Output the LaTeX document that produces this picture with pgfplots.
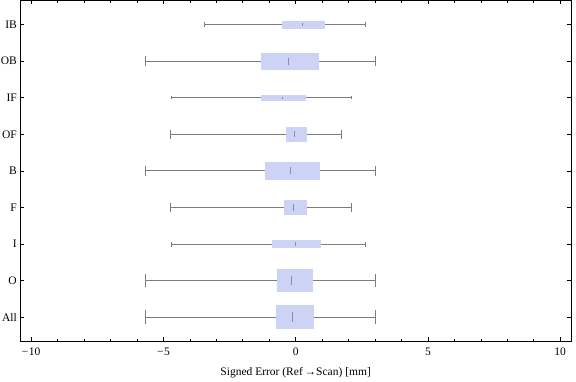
\documentclass[border=0pt]{standalone}
\usepackage{fontspec}
\setmainfont{Liberation Serif}
\usepackage{pgfplots}
\pgfplotsset{compat=1.18}
\usepgfplotslibrary{statistics}
\definecolor{boxcol}{RGB}{204,211,245}
\definecolor{whiskcol}{RGB}{125,125,125}
\definecolor{medcol}{RGB}{140,140,165}
\begin{document}
\begin{tikzpicture}
\begin{axis}[
  scale only axis,
  width=550.7pt, height=341pt,
  xmin=-10.41, xmax=10.41,
  ymin=0.34, ymax=9.66,
  xtick={-10,-5,0,5,10},
  xticklabels={{−\kern0.5pt10},{−\kern0.5pt5},0,5,10},
  minor x tick num=4,
  ytick={1,2,3,4,5,6,7,8,9},
  yticklabels={All,O,I,F,B,OF,IF,OB,IB},
  tick align=inside,
  axis line style={line width=0.8pt},
  every tick/.style={black, line width=0.6pt},
  major tick length=4pt, minor tick length=2.4pt,
  tick label style={font=\fontsize{11.5pt}{13pt}\selectfont},
  xticklabel style={yshift=-3pt},
  xlabel={Signed Error (Ref\,→Scan) [mm]},
  xlabel style={font=\fontsize{11.5pt}{13pt}\selectfont, at={(axis description cs:0.5,0)}, anchor=base, yshift=-34pt},
  boxplot/draw direction=x,
  boxplot/whisker extend=\pgfkeysvalueof{/pgfplots/boxplot/box extend}*0.56,
  boxplot/every box/.style={draw=none, fill=boxcol},
  boxplot/every whisker/.style={draw=whiskcol, line width=1pt},
  boxplot/every median/.style={draw=medcol, line width=0.9pt},
  boxplot/draw/median/.code={\draw[/pgfplots/boxplot/every median/.try] (boxplot box cs:\pgfplotsboxplotvalue{median},0.3) -- (boxplot box cs:\pgfplotsboxplotvalue{median},0.7);},
]
% All
\addplot[boxplot prepared={lower whisker=-5.69, lower quartile=-0.75, median=-0.13, upper quartile=0.69, upper whisker=3.02, draw position=1, box extend=0.66}] coordinates {};
% O
\addplot[boxplot prepared={lower whisker=-5.69, lower quartile=-0.71, median=-0.17, upper quartile=0.65, upper whisker=3.02, draw position=2, box extend=0.63}] coordinates {};
% I
\addplot[boxplot prepared={lower whisker=-4.71, lower quartile=-0.90, median=-0.02, upper quartile=0.95, upper whisker=2.64, draw position=3, box extend=0.24}] coordinates {};
% F
\addplot[boxplot prepared={lower whisker=-4.74, lower quartile=-0.45, median=-0.09, upper quartile=0.42, upper whisker=2.10, draw position=4, box extend=0.42}] coordinates {};
% B
\addplot[boxplot prepared={lower whisker=-5.69, lower quartile=-1.16, median=-0.18, upper quartile=0.92, upper whisker=3.02, draw position=5, box extend=0.49}] coordinates {};
% OF
\addplot[boxplot prepared={lower whisker=-4.74, lower quartile=-0.37, median=-0.03, upper quartile=0.42, upper whisker=1.72, draw position=6, box extend=0.41}] coordinates {};
% IF
\addplot[boxplot prepared={lower whisker=-4.71, lower quartile=-1.32, median=-0.50, upper quartile=0.39, upper whisker=2.11, draw position=7, box extend=0.164}] coordinates {};
% OB
\addplot[boxplot prepared={lower whisker=-5.69, lower quartile=-1.32, median=-0.26, upper quartile=0.88, upper whisker=3.02, draw position=8, box extend=0.465}] coordinates {};
% IB
\addplot[boxplot prepared={lower whisker=-3.46, lower quartile=-0.52, median=0.26, upper quartile=1.10, upper whisker=2.64, draw position=9, box extend=0.219}] coordinates {};
\coordinate (sw) at (rel axis cs:0,0);
\coordinate (ne) at (rel axis cs:1,1);
\end{axis}
\pgfresetboundingbox
\path[use as bounding box] ([xshift=-20.3pt,yshift=-39.7pt]sw) rectangle ([xshift=5pt,yshift=0.4pt]ne);
\end{tikzpicture}
\end{document}
